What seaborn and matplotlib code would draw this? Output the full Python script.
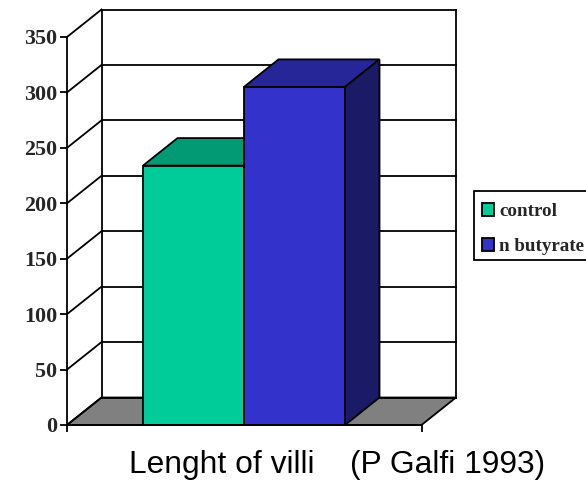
import matplotlib
matplotlib.use("Agg")
import matplotlib.pyplot as plt
from matplotlib.patches import Patch, Polygon, Rectangle
import pandas as pd
import seaborn as sns

categories = ["control", "n butyrate"]
lengths = [234, 305]
y_ticks = [0, 50, 100, 150, 200, 250, 300, 350]
front_colors = ["#00CC99", "#3333CC"]
top_colors = ["#029A74", "#262699"]
side_colors = ["#017A5C", "#1A1A66"]
caption = "Lenght of villi    (P Galfi 1993)"

W, H = 586, 482
LW = 1.3

sns.set_style("white")
plt.rcParams["font.family"] = ["Liberation Serif", "DejaVu Serif"]

fig = plt.figure(figsize=(W / 100, H / 100), dpi=100)
ax = fig.add_axes([67 / W, (H - 425) / H, 354.5 / W, 388 / H])
ax.set_facecolor("none")

df = pd.DataFrame({"group": categories, "length": lengths})

xmin, xmax = -0.5 - 76 / 101, 1.5 + 76.5 / 101
ymax = 350
# depth of the fake 3D box, in data units
dx = 34.5 / 101
dy = 27.5 / (388 / 350)


def poly(points, color, z, edge="black"):
    ax.add_patch(Polygon(points, closed=True, facecolor=color, edgecolor=edge,
                         linewidth=LW, clip_on=False, zorder=z))


def line(xs, ys, z=1.5):
    ax.plot(xs, ys, color="black", lw=LW, clip_on=False, zorder=z,
            solid_capstyle="projecting")


# floor
poly([(xmin, 0), (xmax, 0), (xmax + dx, dy), (xmin + dx, dy)], "#808080", 1)

# back wall and side wall lines
for t in y_ticks:
    line([xmin + dx, xmax + dx], [t + dy, t + dy])
    line([xmin, xmin + dx], [t, t + dy])
line([xmin + dx, xmin + dx], [dy, ymax + dy])
line([xmax + dx, xmax + dx], [dy, ymax + dy])

sns.barplot(data=df, x="group", y="length", hue="group", palette=front_colors,
            width=1, dodge=False, legend=False, saturation=1, ax=ax,
            edgecolor="black", linewidth=LW, zorder=4)

# top and side faces of each bar, taken from the bars seaborn drew
for i, bar in enumerate(ax.patches[-2:]):
    x0, x1 = bar.get_x(), bar.get_x() + bar.get_width()
    h = bar.get_height()
    bar.set_zorder(3 + 2 * i)
    poly([(x0, h), (x1, h), (x1 + dx, h + dy), (x0 + dx, h + dy)], top_colors[i], 2.5 + 2 * i)
    poly([(x1, 0), (x1 + dx, dy), (x1 + dx, h + dy), (x1, h)], side_colors[i], 2.5 + 2 * i)

ax.set_xlim(xmin, xmax)
ax.set_ylim(0, ymax)
ax.set_yticks(y_ticks)
ax.set_xticks([xmin, xmax])
ax.set_xticklabels(["", ""])
ax.set_xlabel("")
ax.set_ylabel("")
ax.tick_params(axis="y", left=True, length=5, width=LW, color="black", pad=2, labelsize=15.8)
ax.tick_params(axis="x", bottom=True, length=5, width=LW, color="black")
for lab in ax.get_yticklabels():
    lab.set_fontweight("bold")
sns.despine(ax=ax)
for s in ["left", "bottom"]:
    ax.spines[s].set_linewidth(LW)
    ax.spines[s].set_color("black")
    ax.spines[s].set_zorder(9)

# legend frame runs off the right edge like in the original
fig.add_artist(Rectangle((474 / W, (H - 260) / H), 120 / W, 69 / H, transform=fig.transFigure,
                         facecolor="white", edgecolor="black", linewidth=LW, zorder=1))
handles = [Patch(facecolor=c, edgecolor="black", linewidth=LW) for c in front_colors]
fig.legend(handles, categories, loc="upper left",
           bbox_to_anchor=(474 / W, (H - 195) / H), borderaxespad=0,
           prop={"family": "Liberation Serif", "weight": "bold", "size": 13.7},
           handlelength=0.62, handleheight=0.62, handletextpad=0.28,
           labelspacing=0.94, borderpad=0.43, frameon=False)

fig.text(337.5 / W, (H - 473) / H, caption, family="Liberation Sans", fontsize=22.9,
         ha="center", va="baseline", color="black")

fig.savefig("out.png", dpi=100)
